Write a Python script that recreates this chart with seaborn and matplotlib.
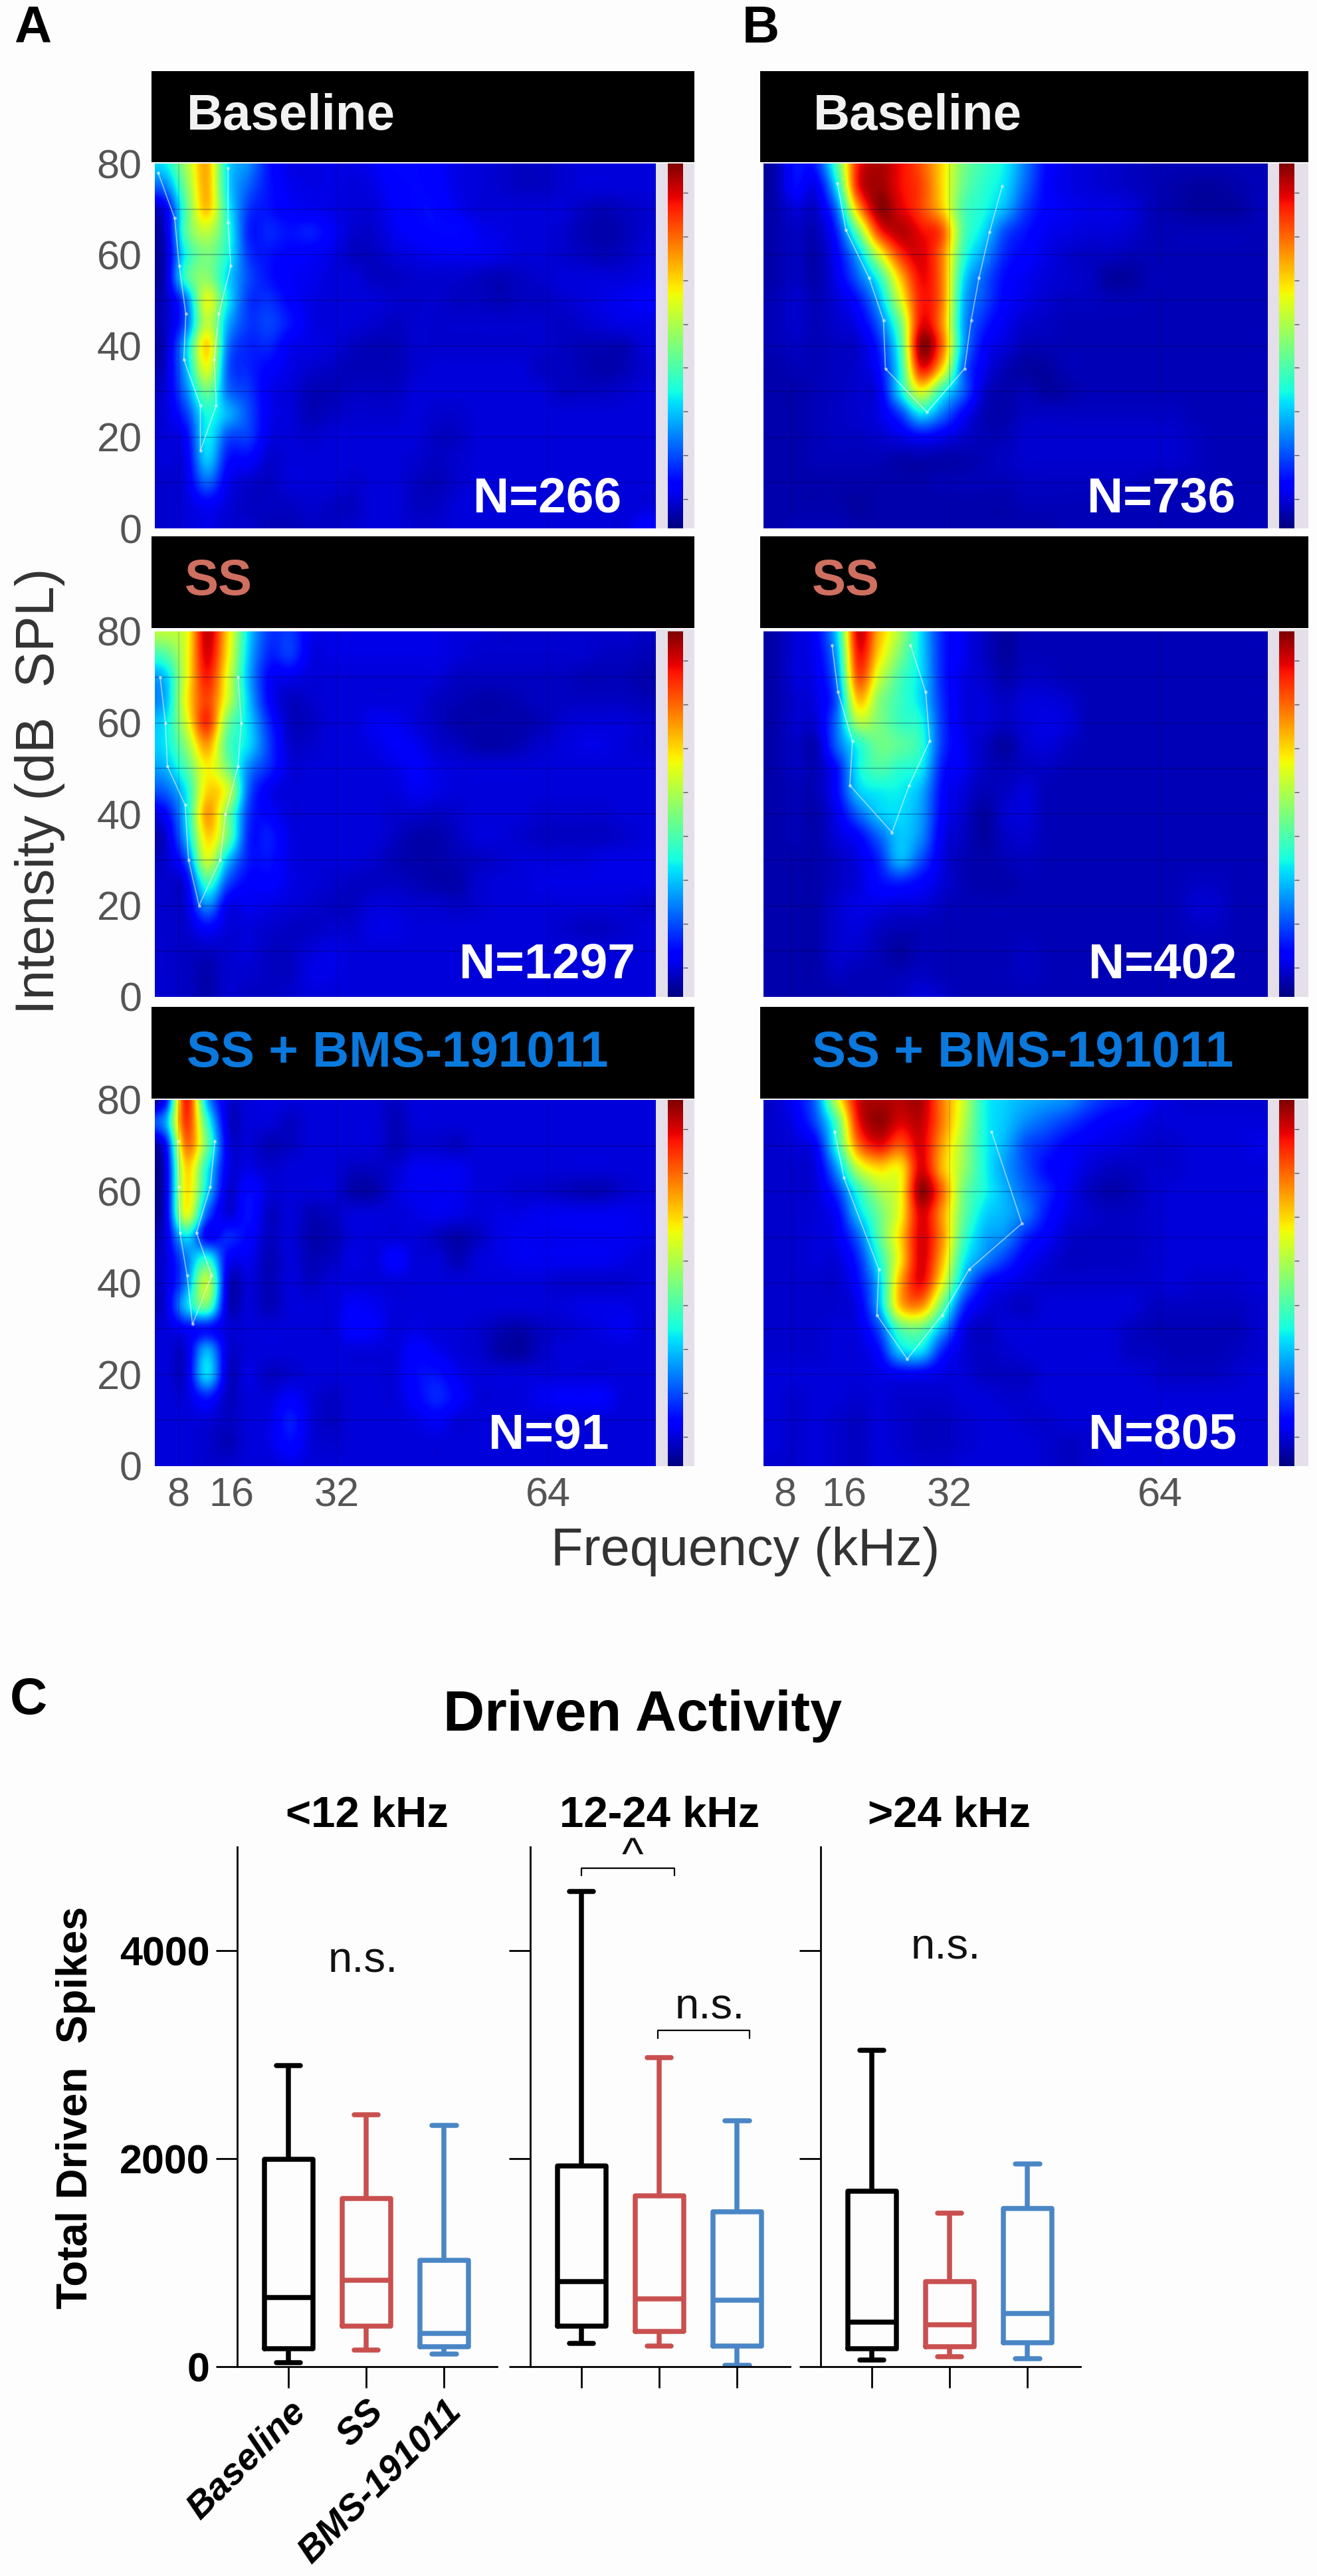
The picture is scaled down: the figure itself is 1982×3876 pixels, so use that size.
import numpy as np
import pandas as pd
import matplotlib
matplotlib.use("Agg")
import matplotlib.pyplot as plt
import seaborn as sns

W, H = 1983, 3876

# response maps, rows run 80 -> 0 dB in 5 dB steps, 24 frequency bins, % of colour scale
map_a_base = [
    [36,55,72,35,26,14,9,9,9,9,10,13,13,11,9,8,7,6,6,7,8,8,8,8],
    [25,50,72,35,22,14,10,9,9,8,9,12,13,12,9,8,7,6,6,7,8,8,8,8],
    [10,45,70,38,18,14,11,10,9,8,8,11,13,13,10,8,8,8,8,8,6,5,6,7],
    [7,45,58,40,16,16,14,15,11,7,7,10,12,13,13,10,9,8,8,7,5,4,5,7],
    [6,38,50,38,18,14,12,11,9,6,6,8,9,10,10,10,9,8,8,7,6,5,6,8],
    [6,42,52,34,20,14,11,10,8,8,6,6,7,7,7,6,5,6,7,8,8,8,8,9],
    [6,24,62,36,18,17,12,9,8,8,8,7,7,7,6,6,5,6,6,7,8,9,10,11],
    [6,22,58,30,18,19,14,9,8,8,7,6,7,7,7,7,7,7,7,6,7,8,9,9],
    [6,32,68,25,16,16,10,9,8,6,5,5,7,7,7,7,7,7,7,6,5,5,5,8],
    [7,30,62,22,16,12,9,7,6,5,5,5,7,8,8,8,8,8,6,6,5,4,5,7],
    [8,25,48,24,18,10,8,5,5,6,6,6,8,8,8,8,8,8,8,6,6,6,7,8],
    [8,18,38,30,20,10,8,5,6,7,7,7,8,7,7,8,8,8,8,8,8,8,8,8],
    [8,12,36,20,18,9,8,7,8,8,8,8,8,6,6,8,8,8,8,8,8,8,8,8],
    [8,10,32,14,12,7,8,8,8,8,8,8,7,6,7,8,8,8,8,8,8,8,8,8],
    [7,9,22,10,7,6,8,8,8,7,8,8,6,5,7,8,8,8,8,8,8,8,8,8],
    [7,8,11,8,6,6,6,7,6,6,8,8,6,6,8,8,8,8,8,8,8,8,8,8],
    [7,8,9,7,7,5,5,6,6,7,8,8,7,7,8,8,8,8,8,8,8,8,8,12],
]
map_a_ss = [
    [58,62,94,68,34,18,18,10,9,9,9,9,9,9,8,8,7,7,7,7,7,7,7,6],
    [45,62,92,66,32,16,18,9,9,9,9,9,9,9,8,7,7,7,7,7,7,6,6,5],
    [32,62,88,62,30,12,10,8,8,8,8,8,8,8,6,6,6,6,6,6,5,5,5,4],
    [30,64,84,60,32,12,6,7,8,8,8,8,8,6,5,4,4,5,6,6,6,6,6,5],
    [35,60,86,50,34,16,6,6,8,8,10,10,8,6,4,4,4,4,5,7,8,8,8,7],
    [35,52,74,45,34,18,7,7,8,8,9,11,10,7,6,4,4,5,7,8,9,9,8,7],
    [30,44,65,50,26,16,8,8,8,8,8,9,11,9,8,8,8,8,8,8,8,8,8,8],
    [22,36,68,60,22,10,8,8,8,8,8,8,10,9,8,8,8,8,8,8,8,8,8,8],
    [12,34,74,50,18,12,8,8,8,8,8,7,7,6,7,8,8,8,7,7,7,7,8,8],
    [7,30,68,48,16,15,9,8,8,8,8,6,4,4,6,8,8,7,6,6,6,6,7,8],
    [7,20,60,32,15,14,9,8,8,8,7,5,4,4,5,6,7,8,8,8,8,9,9,9],
    [7,10,42,20,12,12,9,8,7,6,6,6,5,4,4,7,8,8,9,9,9,9,9,9],
    [7,8,26,10,10,9,8,7,6,6,8,8,7,7,6,7,8,8,8,8,8,8,8,7],
    [7,7,12,8,8,7,6,6,7,7,9,9,8,8,8,8,8,8,8,7,6,6,7,8],
    [7,6,6,7,8,6,6,8,9,8,8,8,8,8,8,8,8,8,8,8,8,8,8,8],
    [7,6,4,7,7,6,6,9,9,8,8,8,8,8,8,8,8,8,8,8,8,8,8,8],
    [7,6,4,7,6,6,7,8,8,8,8,8,8,8,8,8,8,8,8,8,8,8,8,8],
]
map_a_bms = [
    [12,88,30,8,8,9,8,8,8,8,8,6,8,8,8,8,8,8,8,8,8,8,8,8],
    [28,85,42,8,8,8,6,8,8,8,8,5,8,8,8,8,8,8,8,8,8,8,8,8],
    [12,78,48,10,8,5,6,8,8,8,8,5,7,7,6,8,8,8,8,8,8,8,8,8],
    [8,68,38,10,9,7,8,8,8,6,6,7,10,10,10,8,8,8,8,8,8,8,8,8],
    [8,66,34,8,13,8,8,8,8,4,4,8,10,10,10,8,8,7,7,6,5,5,7,8],
    [8,62,22,8,14,6,8,5,6,8,8,8,9,10,9,8,9,9,10,10,10,10,10,9],
    [8,35,12,16,12,6,8,4,5,8,8,8,8,6,4,6,9,10,10,10,10,10,10,9],
    [8,24,40,12,10,5,8,5,6,9,8,12,8,8,5,8,9,10,10,10,10,10,9,8],
    [8,25,58,8,8,5,8,6,8,8,8,8,8,8,8,8,8,8,8,7,7,7,7,8],
    [8,32,48,7,8,5,8,8,8,11,10,8,8,8,8,8,8,8,8,8,9,9,9,8],
    [8,12,14,8,8,8,8,8,8,12,11,8,9,8,8,7,5,4,6,7,8,9,10,8],
    [8,8,30,8,8,8,8,8,8,8,8,8,12,10,8,7,4,3,6,8,8,8,8,8],
    [8,8,34,7,9,6,7,8,8,8,8,8,13,14,10,8,8,8,8,8,8,8,8,8],
    [8,8,15,6,8,8,11,8,6,8,8,8,12,16,12,8,8,8,10,11,11,11,8,8],
    [8,8,8,6,8,9,15,8,6,8,8,8,9,11,8,8,8,8,8,8,8,8,8,8],
    [8,8,7,5,8,9,13,8,7,8,8,8,8,8,8,8,8,8,8,8,8,8,8,8],
    [8,8,7,7,8,8,9,8,8,8,8,8,8,8,8,8,8,8,8,8,8,8,8,8],
]
map_b_base = [
    [4,14,16,45,88,96,90,82,68,50,42,36,24,13,9,8,7,6,5,5,5,5,5,5],
    [4,13,10,36,88,97,90,84,68,48,40,34,22,12,9,8,7,6,5,4,3,3,4,5],
    [4,8,7,24,72,98,92,84,70,45,38,30,18,12,10,9,9,8,5,4,3,3,3,5],
    [4,6,5,16,48,85,95,90,82,46,34,20,14,10,9,8,8,7,5,5,5,5,5,5],
    [4,6,4,12,30,60,85,92,78,42,28,16,12,9,7,6,6,5,5,5,5,5,5,5],
    [4,6,4,10,22,40,70,90,78,36,22,13,10,8,7,6,3,3,5,5,5,5,5,5],
    [5,7,5,8,14,30,60,88,78,32,20,12,9,7,6,6,5,5,5,5,5,5,5,5],
    [5,7,5,7,10,22,48,90,76,30,16,10,7,6,5,5,5,5,5,5,5,5,5,5],
    [5,6,5,6,7,16,42,98,80,30,12,8,5,5,5,5,5,5,5,5,5,5,5,5],
    [4,5,5,6,7,13,38,88,68,24,10,5,3,3,5,5,5,5,5,5,5,5,5,5],
    [4,4,5,6,7,10,35,62,40,22,7,4,5,3,4,5,5,5,5,5,5,5,5,5],
    [4,4,5,6,7,9,18,34,24,12,5,4,6,6,6,6,6,6,6,6,5,5,5,5],
    [4,4,5,6,6,7,9,12,10,7,5,5,7,7,7,7,7,7,7,7,6,5,5,5],
    [4,4,5,5,5,5,4,4,4,4,5,6,7,7,7,7,7,7,7,7,6,5,5,5],
    [4,4,4,4,4,4,4,4,5,5,5,5,6,6,6,6,6,6,5,5,5,5,5,5],
    [4,4,4,4,3,4,4,4,4,4,4,4,5,5,5,5,5,5,5,5,5,5,5,5],
    [4,5,5,5,4,4,4,4,4,4,4,4,4,4,5,5,5,5,5,5,5,5,5,5],
]
map_b_ss = [
    [4,8,12,34,92,72,55,34,16,10,6,3,5,5,5,5,5,5,5,5,5,5,5,5],
    [4,8,11,30,88,68,50,34,16,10,6,3,5,5,5,5,5,5,5,5,5,5,5,5],
    [4,8,10,26,82,60,44,34,16,9,7,4,6,6,5,5,5,5,5,5,5,5,5,5],
    [4,7,9,22,70,52,42,34,17,9,8,6,8,8,7,5,5,5,5,5,5,5,5,5],
    [4,7,8,24,55,50,42,38,18,9,8,6,8,9,8,5,5,5,5,5,5,5,5,5],
    [4,6,5,22,38,48,46,40,18,10,6,3,7,8,6,5,5,5,5,5,5,5,5,5],
    [4,6,5,14,36,44,40,36,15,10,6,5,6,6,5,5,5,5,5,5,5,5,5,5],
    [4,5,5,13,32,36,36,30,13,8,5,6,8,5,5,5,5,5,5,5,5,5,5,5],
    [4,5,4,10,22,32,34,28,12,7,3,7,8,5,5,5,5,5,5,5,5,5,5,5],
    [4,5,4,8,12,22,32,26,10,6,3,6,7,5,5,5,5,5,5,5,5,5,5,5],
    [4,4,4,6,9,16,30,20,9,5,4,5,6,5,5,5,5,5,5,5,5,5,5,5],
    [4,4,4,6,8,13,15,12,8,5,4,4,5,5,5,5,5,5,5,5,6,6,5,5],
    [4,4,4,7,9,9,8,8,6,5,5,5,5,5,5,5,5,5,5,5,7,7,5,5],
    [4,4,4,7,8,6,5,5,5,5,5,5,5,5,5,5,5,5,5,5,6,6,5,5],
    [4,4,4,7,7,5,3,5,5,5,5,5,6,5,5,5,5,5,5,5,5,5,5,5],
    [4,4,4,6,5,5,5,6,5,5,5,5,6,5,5,5,5,5,5,5,5,5,5,5],
    [4,4,4,4,5,5,6,8,7,5,5,5,5,5,5,5,5,5,5,5,5,5,5,5],
]
map_b_bms = [
    [7,12,24,60,92,96,95,96,78,60,38,33,30,28,26,20,16,14,10,8,7,7,7,7],
    [7,10,20,45,88,98,92,94,78,58,38,32,26,22,18,14,11,10,8,8,8,8,8,8],
    [7,8,12,40,78,90,82,92,74,55,38,30,20,16,12,10,9,8,7,7,8,8,8,9],
    [7,7,9,28,58,68,66,92,72,54,38,28,20,13,11,8,6,6,7,7,8,8,8,8],
    [7,7,8,18,40,55,64,98,80,50,38,30,22,16,10,6,4,5,7,8,8,8,8,8],
    [7,7,8,12,32,48,64,92,75,48,34,30,24,14,9,7,6,6,7,8,8,8,8,8],
    [7,7,8,10,22,45,68,92,76,44,30,26,16,11,7,6,6,6,7,8,8,8,8,8],
    [7,7,8,8,16,38,66,92,72,38,26,18,11,8,6,6,6,6,7,8,8,8,8,8],
    [7,7,7,7,13,32,72,90,64,30,14,10,8,7,7,7,7,7,7,8,7,7,7,8],
    [7,7,7,7,10,30,70,76,48,18,9,7,6,8,8,8,8,8,6,6,6,6,6,7],
    [7,7,7,8,9,20,45,48,30,10,6,8,8,8,8,8,8,6,5,5,5,5,5,7],
    [7,7,7,8,8,13,32,34,16,8,6,7,8,8,8,8,8,6,6,5,5,5,6,7],
    [8,8,8,8,8,9,11,11,9,8,6,6,6,8,8,8,8,8,7,6,6,6,7,8],
    [8,7,8,8,7,8,7,7,7,8,8,7,7,8,8,8,8,8,8,8,8,8,8,8],
    [8,7,8,7,6,8,7,6,6,7,8,8,7,7,8,8,8,8,8,8,8,8,8,8],
    [8,7,8,7,6,8,7,6,6,7,8,8,8,7,6,7,8,8,8,8,8,8,8,8],
    [7,7,8,7,6,8,8,7,7,8,8,8,8,7,6,7,8,8,8,8,8,8,8,8],
]

# tuning curve outlines (kHz, dB): down the low side, up the high side
curve_a_base = ([4.9,7.4,8.1,9.1,8.8,11.3,11.3,13.7,13.4,14.1,15.9,15.5,15.5], [78,68,57.5,47,37,27,17,27,37,47,57.5,67,79])
curve_a_ss = ([5.2,6,6.3,9,9.5,11.1,14.3,15.1,17,17.5,17], [70,60,50.5,42,30,20,30,40,50.5,60,70])
curve_a_bms = ([7.9,8,8.2,9.3,10.1,13,10.7,12.8,13.5], [71,61,51,41.6,31,41.6,51,61,71])
curve_b_base = ([15,16.3,19.8,22,22.3,28.6,34.3,35.3,36.5,38.1,40], [75.7,65.4,55,45.6,35,25.5,35,45.6,55,65,75])
curve_b_ss = ([14.2,15.1,17.3,16.9,23.3,25.9,29,28.4,26.1], [77,66.7,56,46.3,36,46.3,56,66.7,77])
curve_b_bms = ([14.6,16,21.3,21,25.6,30.9,35,43,38.4], [73,63,43,33,23.4,33,43,53,73])

header_names = ["Baseline", "SS", "SS + BMS-191011"]
header_colors = ["#f2f2f2", "#cf6f60", "#0a78dc"]
n_a = ["N=266", "N=1297", "N=91"]
n_b = ["N=736", "N=402", "N=805"]
intensity_ticks = [0, 20, 40, 60, 80]
freq_labels = ["8", "16", "32", "64"]
freq_ticks_a = [8, 16, 32, 64]
freq_ticks_b = [7.1, 16, 32, 64]

# panel C: whisker low, q1, median, q3, whisker high
groups = ["Baseline", "SS", "BMS-191011"]
box_colors = ["black", "#c9504f", "#4a86c6"]
low_baseline = [41, 175, 665, 1994, 2898]
low_ss = [163, 391, 834, 1615, 2426]
low_bms = [122, 192, 321, 1026, 2320]
mid_baseline = [222, 391, 816, 1930, 4571]
mid_ss = [198, 338, 653, 1644, 2974]
mid_bms = [12, 198, 641, 1487, 2367]
high_baseline = [64, 175, 431, 1691, 3044]
high_ss = [93, 192, 402, 816, 1475]
high_bms = [76, 227, 513, 1522, 1948]
bands = ["<12 kHz", "12-24 kHz", ">24 kHz"]


def rect(l, t, r, b):
    return [l / W, 1 - b / H, (r - l) / W, (b - t) / H]


def put(x, y, s, **kw):
    kw.setdefault("ha", "center")
    kw.setdefault("va", "center")
    return fig.text(x / W, 1 - y / H, s, **kw)


sns.set_theme(style="white")
plt.rcParams["font.family"] = ["Liberation Sans", "DejaVu Sans"]

fig = plt.figure(figsize=(W / 100, H / 100), dpi=100, facecolor="#fdfdfd")

rows = [(107, 244, 246, 795), (807, 945, 950, 1500), (1515, 1653, 1655, 2206)]
text_y = [176, 876, 1585]
n_y = [751, 1452, 2160]
columns = [
    dict(head=(228, 1045), hm=(233, 987), bar=(1005, 1028), lim=(4.4, 80.3), name_x=[281, 278, 281],
         n_x=[712, 691, 735], n=n_a, ticks=freq_ticks_a,
         maps=[map_a_base, map_a_ss, map_a_bms], curves=[curve_a_base, curve_a_ss, curve_a_bms]),
    dict(head=(1144, 1969), hm=(1149, 1907), bar=(1925, 1948), lim=(3.8, 80.2), name_x=[1224, 1222, 1222],
         n_x=[1636, 1638, 1638], n=n_b, ticks=freq_ticks_b,
         maps=[map_b_base, map_b_ss, map_b_bms], curves=[curve_b_base, curve_b_ss, curve_b_bms]),
]

for c, col in enumerate(columns):
    for r, (h_top, h_bot, top, bot) in enumerate(rows):
        head = fig.add_axes(rect(col["head"][0], h_top, col["head"][1], h_bot), facecolor="black")
        head.set_axis_off()
        head.add_patch(plt.Rectangle((0, 0), 1, 1, color="black", transform=head.transAxes))

        strip = fig.add_axes(rect(col["hm"][1], h_bot + 2, col["head"][1], bot), facecolor="#e4dfe8")
        strip.set_xticks([])
        strip.set_yticks([])
        for sp in strip.spines.values():
            sp.set_visible(False)

        ax = fig.add_axes(rect(col["hm"][0], top, col["hm"][1], bot))
        lo, hi = col["lim"]
        im = ax.imshow(np.array(col["maps"][r], dtype=float), cmap="jet", vmin=0, vmax=100, aspect="auto",
                       origin="upper", extent=[lo, hi, -2.5, 82.5], interpolation="catrom",
                       interpolation_stage="data")
        ax.set_xlim(lo, hi)
        ax.set_ylim(0, 80)
        for db in [10, 20, 30, 40, 50, 60, 70]:
            ax.axhline(db, color="#000050", lw=1.2, alpha=0.3)
        for khz in [8, 32, 64]:
            ax.axvline(khz, color="#000050", lw=1.2, alpha=0.15)
        fx, fy = col["curves"][r]
        ax.plot(fx, fy, color="white", lw=1.2, alpha=0.55, marker="o", ms=3.5, mew=0)
        for sp in ax.spines.values():
            sp.set_visible(False)
        ax.tick_params(length=0, colors="#555555", labelsize=44)
        ax.tick_params(axis="y", pad=14)
        ax.tick_params(axis="x", pad=12)
        ax.set_yticks(intensity_ticks if c == 0 else [])
        if r == 2:
            ax.set_xticks(col["ticks"], freq_labels)
        else:
            ax.set_xticks([])

        cax = fig.add_axes(rect(col["bar"][0], top, col["bar"][1], bot))
        cb = fig.colorbar(im, cax=cax)
        cb.outline.set_visible(False)
        cb.set_ticks([8, 20, 32, 44, 56, 68, 80, 92])
        cb.ax.tick_params(length=5, width=1, color="#555555", labelright=False, direction="out")

        put(col["name_x"][r], text_y[r], header_names[r], color=header_colors[r], fontsize=55,
            fontweight="bold", ha="left", zorder=10)
        put(col["n_x"][r], n_y[r], col["n"][r], color="white", fontsize=54, fontweight="bold", ha="left", zorder=10)

put(60, 1190, "Intensity (dB  SPL)", rotation=90, fontsize=58, color="#333333")
put(1122, 2335, "Frequency (kHz)", fontsize=57, color="#333333")

put(49, 43, "A", fontsize=56, fontweight="bold", color="black")
put(1145, 43, "B", fontsize=56, fontweight="bold", color="black")
put(43, 2558, "C", fontsize=56, fontweight="bold", color="black")

# panel C
band_values = [
    (low_baseline, low_ss, low_bms),
    (mid_baseline, mid_ss, mid_bms),
    (high_baseline, high_ss, high_bms),
]
spines_px = [357, 798, 1235]
band_centres = [552, 993, 1428]
axes_c = []
for i, vals in enumerate(band_values):
    ax = fig.add_axes(rect(spines_px[i], 2779, spines_px[i] + 391, 3561), facecolor="none")
    df = pd.DataFrame({
        "group": [g for g in groups for _ in range(5)],
        "spikes": [v for series in vals for v in series],
    })
    sns.boxplot(data=df, x="group", y="spikes", hue="group", palette=box_colors, fill=False, whis=(0, 100),
                width=0.62, linewidth=5.4, fliersize=0, legend=False, ax=ax)
    ax.set_xlim(-0.66, 2.68)
    ax.set_ylim(0, 5000)
    ax.set_yticks([0, 2000, 4000])
    ax.set_xlabel("")
    ax.set_ylabel("")
    sns.despine(ax=ax)
    for sp in ["left", "bottom"]:
        ax.spines[sp].set_linewidth(2)
        ax.spines[sp].set_color("black")
    ax.tick_params(axis="both", length=23, width=2, color="black", labelcolor="black", left=True, bottom=True)
    if i == 0:
        ax.set_yticklabels(["0", "2000", "4000"], fontsize=44, fontweight="bold")
        ax.tick_params(axis="y", pad=7)
        ax.set_xticks(range(3))
        ax.set_xticklabels(groups, fontsize=40, fontweight="bold", fontstyle="italic", rotation=45,
                           ha="right", va="top", rotation_mode="anchor")
        ax.tick_params(axis="x", pad=7)
    else:
        ax.set_yticklabels([])
        ax.set_xticks(range(3))
        ax.set_xticklabels([])
    put(band_centres[i], 2732, bands[i], fontsize=47, fontweight="bold", color="black")
    axes_c.append(ax)

mid = axes_c[1]
mid.plot([0, 0, 1.19, 1.19], [4723, 4793, 4793, 4723], color="black", lw=1.6)
mid.plot([0.98, 0.98, 2.16, 2.16], [3160, 3236, 3236, 3160], color="black", lw=1.6)

put(546, 2950, "n.s.", fontsize=47, color="#111111")
put(1423, 2930, "n.s.", fontsize=47, color="#111111")
put(1068, 3021, "n.s.", fontsize=47, color="#111111")
put(952, 2795, "^", fontsize=50, color="#111111")

put(114, 3171, "Total Driven  Spikes", rotation=90, fontsize=46, fontweight="bold", color="black")
put(967, 2582, "Driven Activity", fontsize=62, fontweight="bold", color="black")

fig.savefig("out.png", dpi=100, facecolor=fig.get_facecolor())
